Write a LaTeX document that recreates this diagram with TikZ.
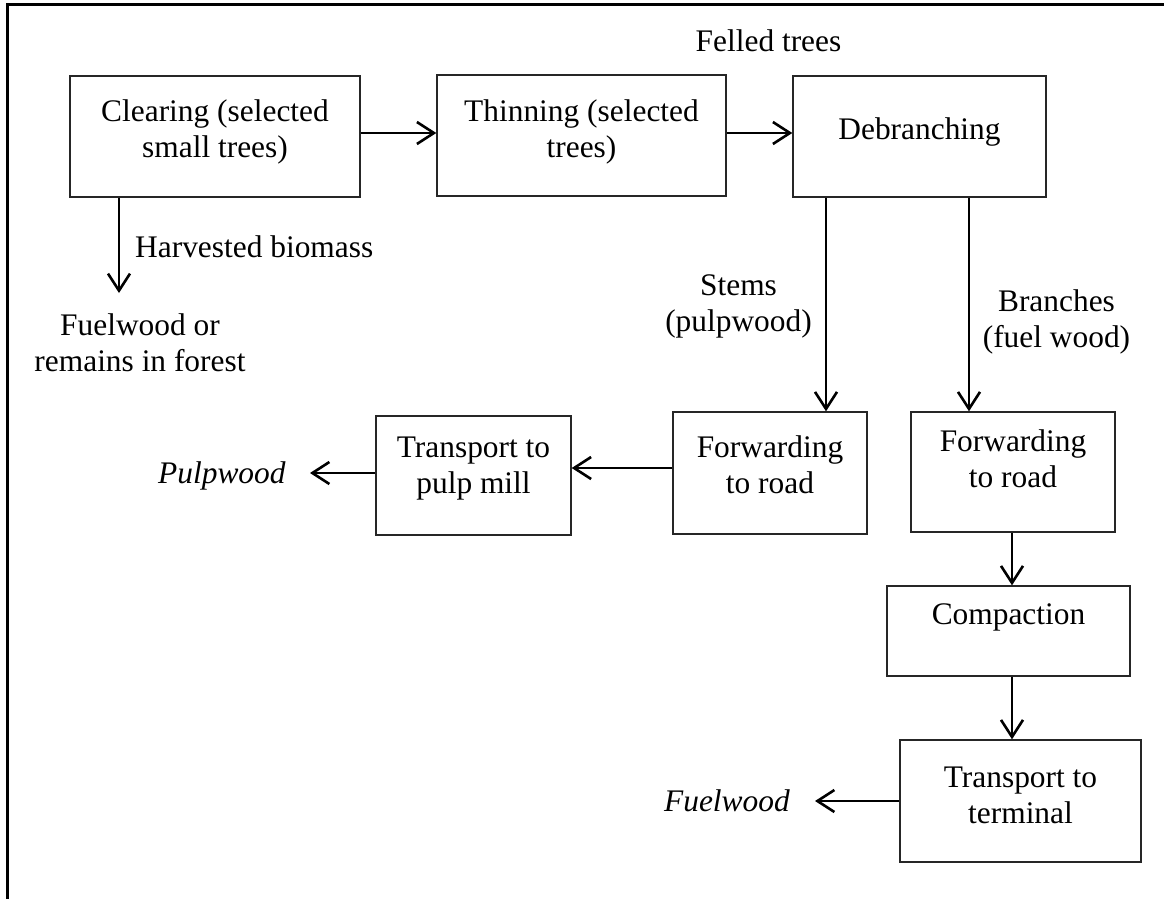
\documentclass[tikz,border=0pt]{standalone}
\usepackage{fontspec}
\setmainfont{Liberation Serif}
\usetikzlibrary{arrows.meta}
% two centred lines whose baseline is that of the first line
\newcommand\twolines[2]{\begin{tabular}[t]{@{}c@{}}#1\\#2\end{tabular}}
\begin{document}
\begin{tikzpicture}[x=1pt,y=-1pt,
  box/.style={draw=black!85, line width=1.4pt, rectangle, inner sep=0pt},
  lbl/.style={inner sep=0pt, anchor=base, font=\fontsize{31.4}{36}\selectfont},
  flow/.style={line width=2.6pt, -{Straight Barb[length=17pt,width=22pt,line width=2.6pt]}},
  frame/.style={line width=2.5pt}]
\useasboundingbox (0,0) rectangle (1164,899);

% page frame (top and left edges)
\draw[frame] (7.5,899) -- (7.5,4.5) -- (1164,4.5);

% process boxes
\node[box, minimum width=290pt, minimum height=121pt] (clear) at (215,136.5) {};
\node[box, minimum width=289pt, minimum height=121pt] (thin)  at (581.5,135.5) {};
\node[box, minimum width=253pt, minimum height=121pt] (debr)  at (919.5,136.5) {};
\node[box, minimum width=194pt, minimum height=122pt] (fwdL)  at (770,473) {};
\node[box, minimum width=204pt, minimum height=120pt] (fwdR)  at (1013,472) {};
\node[box, minimum width=195pt, minimum height=119pt] (pulp)  at (473.5,475.5) {};
\node[box, minimum width=243pt, minimum height=90pt]  (comp)  at (1008.5,631) {};
\node[box, minimum width=241pt, minimum height=122pt] (term)  at (1020.5,801) {};

% box texts
\node[lbl] (clear-t) at (215,121)    {\twolines{Clearing (selected}{small trees)}};
\node[lbl] (thin-t)  at (581.5,121)  {\twolines{Thinning (selected}{trees)}};
\node[lbl] (debr-t)  at (919.5,139)  {Debranching};
\node[lbl] (fwdL-t)  at (770,457)    {\twolines{Forwarding}{to road}};
\node[lbl] (fwdR-t)  at (1013,451)   {\twolines{Forwarding}{to road}};
\node[lbl] (pulp-t)  at (473.5,457)  {\twolines{Transport to}{pulp mill}};
\node[lbl] (comp-t)  at (1008.5,624) {Compaction};
\node[lbl] (term-t)  at (1020.5,787) {\twolines{Transport to}{terminal}};

% free labels
\node[lbl] (felled) at (768.5,52) {Felled trees};
\node[lbl, anchor=base west] (harv) at (135,257) {Harvested biomass};
\node[lbl] (remain) at (140,335) {\twolines{Fuelwood or}{remains in forest}};
\node[lbl] (stems)  at (738.5,295) {\twolines{Stems}{(pulpwood)}};
\node[lbl] (branch) at (1056.5,311) {\twolines{Branches}{(fuel wood)}};
\node[lbl, anchor=base west] (pout) at (158,483) {\textit{Pulpwood}};
\node[lbl, anchor=base east] (fout) at (790,811) {\textit{Fuelwood}};

% free arrow ends
\coordinate (harvtip) at (119,293);
\coordinate (pulptip) at (310,473);
\coordinate (fueltip) at (815,801);

% connectors
\draw[flow] ([yshift=3.5pt]clear.east) -- ([yshift=2.5pt]thin.west);
\draw[flow] ([yshift=2.5pt]thin.east) -- ([yshift=3.5pt]debr.west);
\draw[flow] (clear.south -| harvtip) -- (harvtip);
\draw[flow] ([xshift=-93.5pt]debr.south) -- ([xshift=56pt]fwdL.north);
\draw[flow] ([xshift=49.5pt]debr.south) -- ([xshift=-44pt]fwdR.north);
\draw[flow] ([yshift=5pt]fwdL.west) -- ([yshift=7.5pt]pulp.east);
\draw[flow] (pulp.west |- pulptip) -- (pulptip);
\draw[flow] ([xshift=-1pt]fwdR.south) -- ([xshift=3.5pt]comp.north);
\draw[flow] ([xshift=3.5pt]comp.south) -- ([xshift=-8.5pt]term.north);
\draw[flow] (term.west |- fueltip) -- (fueltip);
\end{tikzpicture}
\end{document}
